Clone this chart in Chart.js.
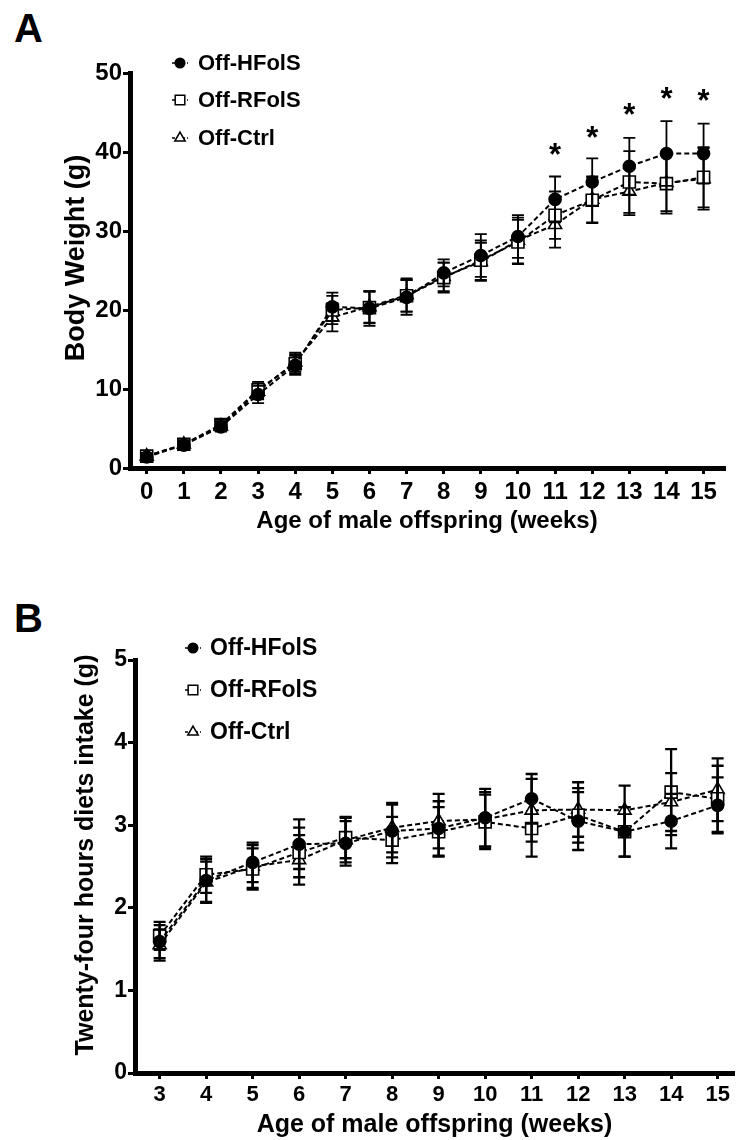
<!DOCTYPE html>
<html>
<head>
<meta charset="utf-8">
<script src="https://cdn.jsdelivr.net/npm/chart.js@4.4.1/dist/chart.umd.min.js"></script>
<style>
  html, body { margin: 0; padding: 0; background: #fff; }
  body { width: 744px; height: 1140px; position: relative; overflow: hidden; }
  .panel { position: absolute; left: 0; }
  .tag { position: absolute; left: 14px; font: bold 40px "Liberation Sans", Arial, sans-serif; line-height: 40px; color: #000; }
</style>
</head>
<body>
<div class="tag" style="top:8px">A</div>
<div class="tag" style="top:598px">B</div>
<canvas id="chartA" class="panel" style="top:0" width="744" height="560"></canvas>
<canvas id="chartB" class="panel" style="top:570px" width="744" height="570"></canvas>
<script>
// series names
const seriesLabels = ['Off-HFolS', 'Off-RFolS', 'Off-Ctrl'];

// panel A - body weight (g), weeks 0..15
const weeksA = [0, 1, 2, 3, 4, 5, 6, 7, 8, 9, 10, 11, 12, 13, 14, 15];
const weightHFolS = [1.4, 2.9, 5.2, 9.3, 13.0, 20.4, 20.2, 21.6, 24.7, 26.9, 29.3, 34.0, 36.2, 38.2, 39.8, 39.8];
const weightRFolS = [1.5, 3.0, 5.5, 9.9, 13.2, 20.0, 20.3, 21.8, 24.1, 26.3, 28.6, 32.0, 33.9, 36.2, 36.0, 36.8];
const weightCtrl = [1.5, 3.0, 5.3, 9.7, 13.4, 19.1, 20.4, 21.9, 24.2, 26.1, 28.8, 30.8, 34.0, 35.0, 36.1, 36.6];
const weightHFolSErr = [0.4, 0.5, 0.6, 1.1, 1.2, 1.8, 2.2, 2.2, 1.7, 2.7, 2.7, 2.9, 3.0, 3.6, 4.1, 3.8];
const weightRFolSErr = [0.4, 0.5, 0.6, 1.0, 1.2, 1.8, 2.0, 2.0, 1.9, 2.5, 2.8, 3.0, 2.9, 3.9, 3.8, 3.8];
const weightCtrlErr = [0.4, 0.5, 0.6, 1.0, 1.2, 1.8, 2.0, 2.1, 1.8, 2.4, 2.9, 2.9, 2.9, 3.0, 3.6, 3.9];
const yTicksA = [0, 10, 20, 30, 40, 50];
// significance marks (*) above HFolS
const sigWeeks = [11, 12, 13, 14, 15];
const sigLevel = [40.5, 42.7, 45.6, 47.6, 47.3];

// panel B - 24 h diet intake (g), weeks 3..15
const weeksB = [3, 4, 5, 6, 7, 8, 9, 10, 11, 12, 13, 14, 15];
const intakeHFolS = [1.59, 2.33, 2.55, 2.77, 2.78, 2.93, 2.96, 3.09, 3.32, 3.05, 2.92, 3.05, 3.24];
const intakeRFolS = [1.66, 2.40, 2.47, 2.67, 2.85, 2.82, 2.92, 3.04, 2.96, 3.12, 2.92, 3.40, 3.32];
const intakeCtrl = [1.55, 2.31, 2.50, 2.58, 2.82, 2.97, 3.05, 3.07, 3.18, 3.19, 3.18, 3.28, 3.43];
const intakeHFolSErr = [0.20, 0.26, 0.24, 0.30, 0.27, 0.32, 0.33, 0.35, 0.30, 0.35, 0.30, 0.33, 0.34];
const intakeRFolSErr = [0.17, 0.22, 0.25, 0.30, 0.25, 0.28, 0.30, 0.33, 0.34, 0.33, 0.30, 0.52, 0.40];
const intakeCtrlErr = [0.19, 0.25, 0.26, 0.30, 0.27, 0.30, 0.33, 0.33, 0.38, 0.33, 0.30, 0.35, 0.38];
const yTicksB = [0, 1, 2, 3, 4, 5];

const SANS = '"Liberation Sans", Arial, sans-serif';
const NARROW = '"Liberation Sans Narrow", "Liberation Sans", Arial, sans-serif';

Chart.defaults.font.family = SANS;
Chart.defaults.font.weight = 'bold';
Chart.defaults.color = '#000';

const markerStyles = [
    { pointStyle: 'circle', pointRadius: 6, fill: '#000' },
    { pointStyle: 'rect', pointRadius: 8.5, fill: '#fff' },
    { pointStyle: 'triangle', pointRadius: 7.5, fill: '#fff' }
];

function makeDataset(i, weeks, values, errs) {
    const m = markerStyles[i];
    return {
        label: seriesLabels[i],
        data: weeks.map((w, k) => ({ x: w, y: values[k] })),
        errors: errs,
        borderColor: '#000',
        borderWidth: 2,
        borderDash: [5, 3],
        fill: false,
        tension: 0,
        pointStyle: m.pointStyle,
        pointRadius: m.pointRadius,
        pointBackgroundColor: m.fill,
        pointBorderColor: '#000',
        pointBorderWidth: 1.6
    };
}

// vertical error bars with caps
const errorBars = {
    id: 'errorBars',
    afterDatasetsDraw(chart, args, opts) {
        const ctx = chart.ctx;
        const yScale = chart.scales.y;
        ctx.save();
        ctx.strokeStyle = '#000';
        ctx.lineWidth = opts.width || 2;
        chart.data.datasets.forEach((ds, i) => {
            const meta = chart.getDatasetMeta(i);
            meta.data.forEach((pt, k) => {
                const v = ds.data[k].y, e = ds.errors[k];
                const top = yScale.getPixelForValue(v + e);
                const bot = yScale.getPixelForValue(v - e);
                const c = opts.cap || 6;
                ctx.beginPath();
                ctx.moveTo(pt.x, top); ctx.lineTo(pt.x, bot);
                ctx.moveTo(pt.x - c, top); ctx.lineTo(pt.x + c, top);
                ctx.moveTo(pt.x - c, bot); ctx.lineTo(pt.x + c, bot);
                ctx.stroke();
            });
        });
        ctx.restore();
    }
};

// asterisks for significant weeks
const sigMarks = {
    id: 'sigMarks',
    afterDatasetsDraw(chart, args, opts) {
        if (!opts.weeks) return;
        const ctx = chart.ctx;
        ctx.save();
        ctx.fillStyle = '#000';
        ctx.font = 'bold 31px ' + SANS;
        ctx.textAlign = 'center';
        ctx.textBaseline = 'alphabetic';
        opts.weeks.forEach((w, k) => {
            const x = chart.scales.x.getPixelForValue(w);
            const y = chart.scales.y.getPixelForValue(opts.levels[k]);
            ctx.fillText('*', x, y + 17);
        });
        ctx.restore();
    }
};

// legend in the upper-left of the plot
const seriesKey = {
    id: 'seriesKey',
    afterDraw(chart, args, opts) {
        const ctx = chart.ctx;
        ctx.save();
        chart.data.datasets.forEach((ds, i) => {
            const y = opts.rows[i];
            ctx.strokeStyle = '#000';
            ctx.lineWidth = 1.5;
            ctx.setLineDash([3, 2]);
            ctx.beginPath();
            ctx.moveTo(opts.x - 8, y); ctx.lineTo(opts.x + 8, y);
            ctx.stroke();
            ctx.setLineDash([]);
            ctx.fillStyle = ds.pointBackgroundColor;
            Chart.helpers.drawPoint(ctx, {
                pointStyle: ds.pointStyle,
                rotation: 0,
                radius: ds.pointRadius * 0.8,
                borderWidth: 1.3
            }, opts.x, y);
            ctx.fillStyle = '#000';
            ctx.font = 'bold ' + opts.size + 'px ' + SANS;
            ctx.textAlign = 'left';
            ctx.textBaseline = 'middle';
            ctx.fillText(ds.label, opts.textX, y + 1);
        });
        ctx.restore();
    }
};

// rotated y-axis title
const sideTitle = {
    id: 'sideTitle',
    afterDraw(chart, args, opts) {
        const ctx = chart.ctx;
        ctx.save();
        ctx.translate(opts.x, opts.y);
        ctx.rotate(-Math.PI / 2);
        ctx.fillStyle = '#000';
        ctx.font = 'bold ' + opts.size + 'px ' + SANS;
        ctx.textAlign = 'center';
        ctx.textBaseline = 'middle';
        ctx.fillText(opts.text, 0, 0);
        ctx.restore();
    }
};

function axisX(min, max, ticks, tickSize, titleSize, titlePad, height, tickPad) {
    return {
        type: 'linear',
        min: min,
        max: max,
        afterBuildTicks: s => { s.ticks = ticks.map(v => ({ value: v })); },
        afterFit: s => { s.height = height; },
        ticks: { font: { family: NARROW, size: tickSize, weight: 'bold' }, color: '#000', padding: tickPad, maxRotation: 0, autoSkip: false },
        grid: { drawOnChartArea: false, color: '#000', lineWidth: 3, tickLength: 6 },
        border: { color: '#000', width: 5 },
        title: { display: true, text: 'Age of male offspring (weeks)', color: '#000',
                 font: { family: SANS, size: titleSize, weight: 'bold' }, padding: { top: 0, bottom: titlePad } }
    };
}

function axisY(min, max, ticks, tickSize, width) {
    return {
        min: min,
        max: max,
        afterBuildTicks: s => { s.ticks = ticks.map(v => ({ value: v })); },
        afterFit: s => { s.width = width; },
        ticks: { font: { family: NARROW, size: tickSize, weight: 'bold' }, color: '#000', padding: 1 },
        grid: { drawOnChartArea: false, color: '#000', lineWidth: 3, tickLength: 7 },
        border: { color: '#000', width: 5 }
    };
}

new Chart(document.getElementById('chartA'), {
    type: 'line',
    data: {
        datasets: [
            makeDataset(0, weeksA, weightHFolS, weightHFolSErr),
            makeDataset(1, weeksA, weightRFolS, weightRFolSErr),
            makeDataset(2, weeksA, weightCtrl, weightCtrlErr)
        ]
    },
    options: {
        responsive: false,
        animation: false,
        events: [],
        layout: { padding: { left: 0, top: 73, right: 20, bottom: 0 } },
        scales: {
            x: axisX(-0.45, 15.55, weeksA, 24, 24, 24, 92, 4),
            y: axisY(0, 50, yTicksA, 24, 130)
        },
        plugins: {
            legend: { display: false },
            tooltip: { enabled: false },
            errorBars: { width: 1.8, cap: 6 },
            sigMarks: { weeks: sigWeeks, levels: sigLevel },
            seriesKey: { x: 180, textX: 198, rows: [63, 100, 138], size: 22 },
            sideTitle: { text: 'Body Weight (g)', x: 77, y: 258, size: 27 }
        }
    },
    plugins: [errorBars, sigMarks, seriesKey, sideTitle]
});

new Chart(document.getElementById('chartB'), {
    type: 'line',
    data: {
        datasets: [
            makeDataset(0, weeksB, intakeHFolS, intakeHFolSErr),
            makeDataset(1, weeksB, intakeRFolS, intakeRFolSErr),
            makeDataset(2, weeksB, intakeCtrl, intakeCtrlErr)
        ]
    },
    options: {
        responsive: false,
        animation: false,
        events: [],
        layout: { padding: { left: 0, top: 90, right: 0, bottom: 0 } },
        scales: {
            x: axisX(2.47, 15.35, weeksB, 22, 25, 0, 67, 3),
            y: axisY(0, 5, yTicksB, 23, 135)
        },
        plugins: {
            legend: { display: false },
            tooltip: { enabled: false },
            errorBars: { width: 2.3, cap: 6 },
            seriesKey: { x: 193, textX: 210, rows: [78, 120, 162], size: 23 },
            sideTitle: { text: 'Twenty-four hours diets intake (g)', x: 86, y: 285, size: 25 }
        }
    },
    plugins: [errorBars, sigMarks, seriesKey, sideTitle]
});
</script>
</body>
</html>
